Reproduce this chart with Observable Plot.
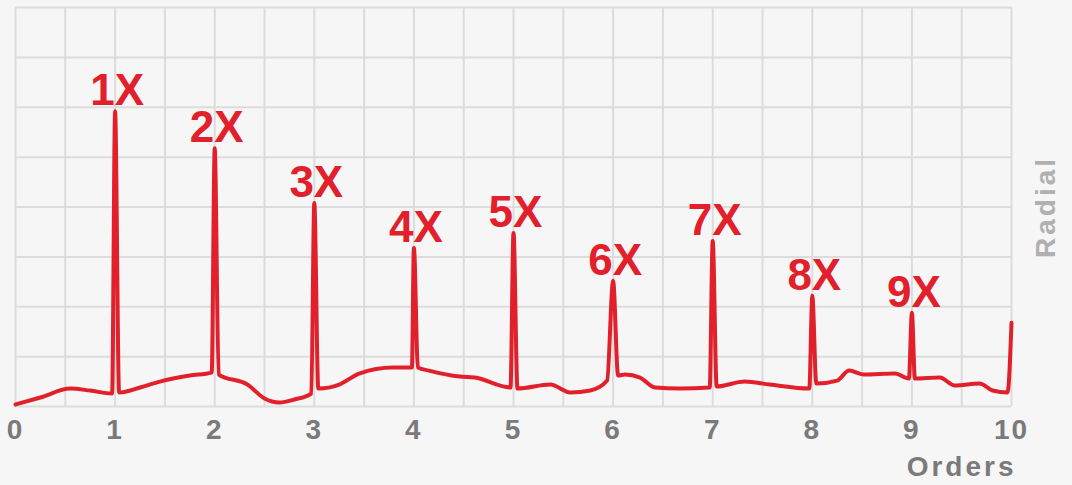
<!DOCTYPE html>
<html>
<head>
<meta charset="utf-8">
<script src="https://cdn.jsdelivr.net/npm/d3@7"></script>
<script src="https://cdn.jsdelivr.net/npm/@observablehq/plot@0.6"></script>
<style>
  html, body { margin: 0; padding: 0; background: #f6f6f6; }
  #chart svg { display: block; }
  #chart g[aria-label="x-axis tick label"] text { letter-spacing: 2px; }
</style>
</head>
<body>
<div id="chart"></div>
<script>
// Broadband radial spectrum between the harmonic peaks (order, amplitude)
const spectrumOrders = [0.00, 0.25, 0.55, 0.75, 0.97, 1.04, 1.25, 1.45, 1.75, 1.97,
  2.04, 2.33, 2.50, 2.65, 2.80, 2.97, 3.04, 3.25, 3.45, 3.79, 3.98,
  4.04, 4.15, 4.46, 4.61, 4.97, 5.04, 5.37, 5.57, 5.77, 5.94,
  6.05, 6.12, 6.27, 6.42, 6.67, 6.97, 7.04, 7.32, 7.57, 7.97,
  8.04, 8.25, 8.37, 8.52, 8.83, 8.97, 9.03, 9.28, 9.43, 9.68, 9.81, 9.96, 10.00];
const spectrumAmps = [0.04, 0.18, 0.36, 0.32, 0.26, 0.28, 0.38, 0.50, 0.62, 0.68,
  0.64, 0.44, 0.16, 0.08, 0.14, 0.26, 0.36, 0.44, 0.66, 0.78, 0.78,
  0.78, 0.72, 0.60, 0.58, 0.38, 0.36, 0.44, 0.28, 0.32, 0.52,
  0.62, 0.64, 0.58, 0.38, 0.36, 0.38, 0.40, 0.50, 0.44, 0.36,
  0.46, 0.52, 0.72, 0.64, 0.66, 0.56, 0.56, 0.58, 0.42, 0.46, 0.32, 0.28, 1.68];

// Harmonic peaks
const peakOrders = [1, 2, 3, 4, 5, 6, 7, 8, 9];
const peakAmps = [5.92, 5.18, 4.08, 3.18, 3.48, 2.52, 3.32, 2.22, 1.88];
const peakLabels = ["1X", "2X", "3X", "4X", "5X", "6X", "7X", "8X", "9X"];

// Axis ticks
const orderTicks = [0, 1, 2, 3, 4, 5, 6, 7, 8, 9, 10];
const orderGrid = [0, 0.5, 1, 1.5, 2, 2.5, 3, 3.5, 4, 4.5, 5, 5.5, 6, 6.5, 7, 7.5, 8, 8.5, 9, 9.5, 10];
const ampGrid = [0, 1, 2, 3, 4, 5, 6, 7, 8];

const peaks = peakOrders.map((o, i) => ({order: o, amp: peakAmps[i], label: peakLabels[i]}));
const spectrum = spectrumOrders
  .map((o, i) => ({order: o, amp: spectrumAmps[i]}))
  .concat(peaks.map(({order, amp}) => ({order, amp})))
  .sort((a, b) => a.order - b.order);

const red = "#e1202b";
const font = "Liberation Sans, Arial, sans-serif";

const chart = Plot.plot({
  width: 1072,
  height: 485,
  marginLeft: 15,
  marginRight: 61,
  marginTop: 7,
  marginBottom: 79,
  style: {background: "#f6f6f6", fontFamily: font},
  x: {domain: [0, 10], axis: null},
  y: {domain: [0, 8], axis: null},
  marks: [
    Plot.gridX(orderGrid, {stroke: "#dcdcdc", strokeOpacity: 1, strokeWidth: 2}),
    Plot.gridY(ampGrid, {stroke: "#dcdcdc", strokeOpacity: 1, strokeWidth: 2}),
    Plot.line(spectrum, {x: "order", y: "amp", stroke: red, strokeWidth: 4, curve: "monotone-x",
      strokeLinejoin: "round", strokeLinecap: "round"}),
    Plot.text(peaks, {x: "order", y: "amp", text: "label", lineAnchor: "bottom", dx: 2, dy: -6,
      fontSize: 44, fontWeight: "bold", fill: red, fontFamily: font}),
    Plot.axisX(orderTicks, {tickSize: 0, tickPadding: 13, fontSize: 28, fontWeight: "bold",
      fill: "#7a7a7a", label: null, fontFamily: font}),
    Plot.text(["Orders"], {frameAnchor: "bottom-right", textAnchor: "end", lineAnchor: "bottom",
      dx: 5, dy: 69, fontSize: 28, fontWeight: "bold", fill: "#7a7a7a", fontFamily: font}),
    Plot.text(["Radial"], {frameAnchor: "right", textAnchor: "middle", lineAnchor: "middle",
      rotate: -90, dx: 35, fontSize: 28, fontWeight: "bold", fill: "#b0b0b0", fontFamily: font})
  ]
});

// Spaced-out lettering for the two axis titles
d3.select(chart).selectAll("text")
  .filter(function () { return this.textContent === "Orders" || this.textContent === "Radial"; })
  .style("letter-spacing", "3px");

document.getElementById("chart").append(chart);
</script>
</body>
</html>
